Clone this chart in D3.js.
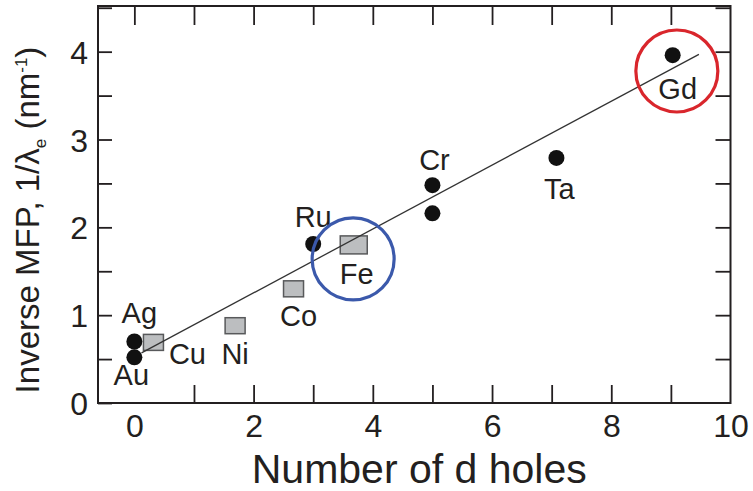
<!DOCTYPE html>
<html>
<head>
<meta charset="utf-8">
<script src="https://cdn.jsdelivr.net/npm/d3@7"></script>
<style>
  html, body { margin: 0; padding: 0; background: #fff; }
  svg { display: block; font-family: "Liberation Sans", Arial, Helvetica, sans-serif; }
</style>
</head>
<body>
<svg id="chart" width="753" height="491"></svg>
<script>
// Elements measured by Number of d holes vs inverse mean free path
const metals   = ["Au", "Ag", "Cu", "Ni", "Co", "Ru", "Fe", "Cr", "Cr", "Ta", "Gd"];
const dHoles   = [0, 0, 0.32, 1.69, 2.67, 3.0, 3.68, 5.0, 5.0, 7.08, 9.03];
const invMFP   = [0.52, 0.70, 0.69, 0.88, 1.30, 1.81, 1.80, 2.48, 2.16, 2.79, 3.96];
const markers  = ["circle", "circle", "square", "square", "square", "circle", "square", "circle", "circle", "circle", "circle"];

// Linear trend line end points
const fitX = [0.12, 9.47];
const fitY = [0.57, 3.97];

// Highlighted elements (ring centre in data units)
const ringX = [3.67, 9.1];
const ringY = [1.64, 3.78];
const ringColor = ["#3b59ab", "#d9262c"];

const xTicks = d3.range(0, 11, 1);
const yTicks = d3.range(0.5, 4.51, 0.5);

const svg = d3.select("#chart");
const W = 753, H = 491;
const m = { left: 98, top: 6, right: 22.5, bottom: 88 };

const x = d3.scaleLinear().domain([-0.61, 10]).range([m.left, W - m.right]);
const y = d3.scaleLinear().domain([0, 4.52]).range([H - m.bottom, m.top]);

const ink = "#231f20";

// Axes with inward ticks
const gB = svg.append("g").attr("transform", `translate(0,${H - m.bottom})`)
  .call(d3.axisBottom(x).tickValues(xTicks).tickSizeInner(-18).tickSizeOuter(0).tickPadding(11)
    .tickFormat(d => d % 2 === 0 ? d : ""));
const gT = svg.append("g").attr("transform", `translate(0,${m.top})`)
  .call(d3.axisTop(x).tickValues(xTicks).tickSizeInner(-19).tickSizeOuter(0).tickFormat(""));
const gL = svg.append("g").attr("transform", `translate(${m.left},0)`)
  .call(d3.axisLeft(y).tickValues([0].concat(yTicks)).tickSizeInner(-14).tickSizeOuter(0).tickPadding(10)
    .tickFormat(d => Number.isInteger(d) ? d : ""));
const gR = svg.append("g").attr("transform", `translate(${W - m.right},0)`)
  .call(d3.axisRight(y).tickValues(yTicks).tickSizeInner(-15).tickSizeOuter(0).tickFormat(""));

[gB, gT, gL, gR].forEach(g => {
  g.select(".domain").remove();
  g.selectAll(".tick line").attr("stroke", ink).attr("stroke-width", 1.8);
  g.selectAll(".tick text").attr("fill", ink).attr("font-size", 32).attr("font-family", null);
});
gB.selectAll(".tick text").attr("dy", "0.71em");
gL.selectAll(".tick text").attr("dy", "0.36em");
gB.selectAll(".tick").filter(d => d === 0 || d === 10).select("line").remove();
gT.selectAll(".tick").filter(d => d === 10).select("line").remove();

// Frame
svg.append("rect")
  .attr("x", m.left).attr("y", m.top)
  .attr("width", W - m.left - m.right).attr("height", H - m.top - m.bottom)
  .attr("fill", "none").attr("stroke", ink).attr("stroke-width", 2);

const pts = metals.map((name, i) => ({ name, x: dHoles[i], y: invMFP[i], shape: markers[i] }));

// Square markers
const sqW = 20, sqH = 16;
svg.append("g").selectAll("rect")
  .data(pts.filter(d => d.shape === "square"))
  .join("rect")
  .attr("x", d => x(d.x) - (d.name === "Fe" ? 13.5 : sqW / 2))
  .attr("y", d => y(d.y) - (d.name === "Fe" ? 9 : sqH / 2))
  .attr("width", d => d.name === "Fe" ? 27 : sqW)
  .attr("height", d => d.name === "Fe" ? 18 : sqH)
  .attr("fill", "#bcbec0").attr("stroke", "#58595b").attr("stroke-width", 1.5);

// Trend line
svg.append("line")
  .attr("x1", x(fitX[0])).attr("y1", y(fitY[0]))
  .attr("x2", x(fitX[1])).attr("y2", y(fitY[1]))
  .attr("stroke", "#333").attr("stroke-width", 1.3);

// Circle markers
svg.append("g").selectAll("circle")
  .data(pts.filter(d => d.shape === "circle"))
  .join("circle")
  .attr("cx", d => x(d.x)).attr("cy", d => y(d.y)).attr("r", 8)
  .attr("fill", "#111");

// Element labels (pixel offsets from each marker)
const labelOffset = {
  Au: [-3, 28], Ag: [5, -19], Cu: [34, 22], Ni: [0, 38], Co: [5, 37],
  Ru: [0, -17], Fe: [3, 39], Cr: [2, -15], Ta: [3, 41], Gd: [5, 44]
};
svg.append("g").selectAll("text")
  .data(pts.filter((d, i) => !(d.name === "Cr" && d.y < 2.3)))
  .join("text")
  .attr("x", d => x(d.x) + labelOffset[d.name][0])
  .attr("y", d => y(d.y) + labelOffset[d.name][1])
  .attr("text-anchor", "middle")
  .attr("font-size", 29).attr("fill", ink)
  .text(d => d.name);

// Highlight rings
svg.append("g").selectAll("circle")
  .data(ringX.map((v, i) => ({ x: v, y: ringY[i], c: ringColor[i] })))
  .join("circle")
  .attr("cx", d => x(d.x)).attr("cy", d => y(d.y)).attr("r", 41)
  .attr("fill", "none").attr("stroke", d => d.c).attr("stroke-width", 3.2);

// Axis titles
svg.append("text")
  .attr("x", (m.left + W - m.right) / 2 + 5).attr("y", 483)
  .attr("text-anchor", "middle").attr("font-size", 41).attr("fill", ink)
  .text("Number of d holes");

const yt = svg.append("text")
  .attr("transform", "translate(39,220) rotate(-90)")
  .attr("text-anchor", "middle").attr("font-size", 33).attr("fill", ink);
yt.append("tspan").text("Inverse MFP, 1/λ");
yt.append("tspan").attr("font-size", 17).attr("dy", 7).text("e");
yt.append("tspan").attr("dy", -7).text(" (nm");
yt.append("tspan").attr("font-size", 17).attr("dy", -12).text("-1");
yt.append("tspan").attr("dy", 12).text(")");
</script>
</body>
</html>
